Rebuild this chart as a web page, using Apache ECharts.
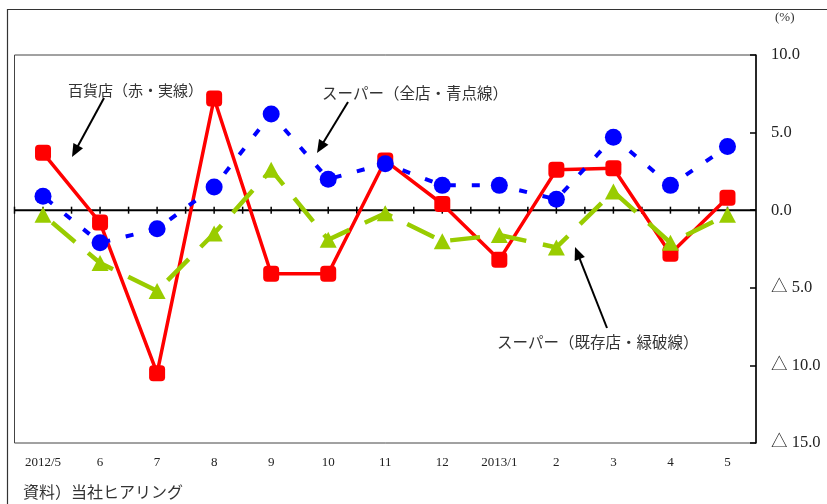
<!DOCTYPE html>
<html>
<head>
<meta charset="utf-8">
<script src="https://cdn.jsdelivr.net/npm/echarts@6/dist/echarts.min.js"></script>
<style>
  html, body { margin: 0; padding: 0; background: #fff; }
  #chart { width: 827px; height: 504px; }
</style>
</head>
<body>
<div id="chart"></div>
<script>
// Month labels (May 2012 – May 2013)
const categories = ['2012/5', '6', '7', '8', '9', '10', '11', '12', '2013/1', '2', '3', '4', '5'];

// Year-on-year sales change, %
const deptStore     = [3.7, -0.8, -10.5, 7.2, -4.1, -4.1, 3.2, 0.4, -3.2, 2.6, 2.7, -2.8, 0.8];   // 百貨店
const superAll      = [0.9, -2.1, -1.2, 1.5, 6.2, 2.0, 3.0, 1.6, 1.6, 0.7, 4.7, 1.6, 4.1];       // スーパー（全店）
const superExisting = [-0.3, -3.4, -5.2, -1.5, 2.6, -1.9, -0.2, -2.0, -1.6, -2.4, 1.2, -2.1, -0.3]; // スーパー（既存店）

// Value axis range and step
const yMin = -15, yMax = 10, yStep = 5;

const serif = '"Liberation Serif", "Noto Sans CJK JP", serif';
const jp = '"Noto Sans CJK JP", sans-serif';

function arrow(x1, y1, x2, y2) {
  const dx = x2 - x1, dy = y2 - y1;
  const len = Math.hypot(dx, dy);
  const ux = dx / len, uy = dy / len;
  const head = 13, half = 5.5;
  const bx = x2 - ux * head, by = y2 - uy * head;
  return {
    type: 'group',
    silent: true,
    children: [
      { type: 'line', shape: { x1: x1, y1: y1, x2: bx + ux * 2, y2: by + uy * 2 },
        style: { stroke: '#000', lineWidth: 2 } },
      { type: 'polygon',
        shape: { points: [[x2, y2], [bx - uy * half, by + ux * half], [bx + uy * half, by - ux * half]] },
        style: { fill: '#000' } }
    ]
  };
}

const chart = echarts.init(document.getElementById('chart'), null, { renderer: 'canvas' });

const option = {
  animation: false,
  backgroundColor: '#fff',
  grid: {
    left: 14.5, right: 71, top: 55, bottom: 61,
    show: true, borderColor: '#444', borderWidth: 1
  },
  xAxis: {
    type: 'category',
    data: categories,
    boundaryGap: true,
    axisLine: { show: false },
    axisTick: { show: false },
    axisLabel: { interval: 0, margin: 13, fontFamily: serif, fontSize: 13, color: '#222' },
    splitLine: { show: false }
  },
  yAxis: {
    type: 'value',
    position: 'right',
    min: yMin, max: yMax, interval: yStep,
    axisLine: { show: true, lineStyle: { color: '#000', width: 1.5 } },
    axisTick: { show: true, inside: true, length: 6, lineStyle: { color: '#000', width: 1.5 } },
    splitLine: { show: false },
    axisLabel: {
      margin: 15, align: 'left', fontFamily: serif, fontSize: 16.5, color: '#222',
      formatter: function (v) {
        return v < 0 ? '△ ' + Math.abs(v).toFixed(1) : v.toFixed(1);
      }
    }
  },
  series: [
    {
      // zero baseline with tick marks at every half month
      type: 'custom',
      silent: true,
      z: 1,
      data: categories.map(function (_, i) { return [i, 0]; }),
      encode: { x: 0, y: 1 },
      renderItem: function (params, api) {
        const c = api.coord([api.value(0), 0]);
        const bw = api.size([1, 0])[0];
        const style = { stroke: '#000', lineWidth: 1.5 };
        const children = [
          { type: 'line', shape: { x1: c[0] - bw / 2, y1: c[1], x2: c[0] + bw / 2, y2: c[1] }, style: { stroke: '#000', lineWidth: 2 } },
          { type: 'line', shape: { x1: c[0] - bw / 2, y1: c[1] - 3.5, x2: c[0] - bw / 2, y2: c[1] + 3.5 }, style: style },
          { type: 'line', shape: { x1: c[0], y1: c[1] - 3.5, x2: c[0], y2: c[1] + 3.5 }, style: style }
        ];
        return { type: 'group', children: children };
      }
    },
    {
      name: '百貨店',
      type: 'line',
      z: 3,
      data: deptStore,
      symbol: 'roundRect',
      symbolSize: 16,
      itemStyle: { color: '#ff0000' },
      lineStyle: { color: '#ff0000', width: 3.5, type: 'solid' }
    },
    {
      name: 'スーパー（全店）',
      type: 'line',
      z: 4,
      data: superAll,
      symbol: 'circle',
      symbolSize: 17,
      itemStyle: { color: '#0000ff' },
      lineStyle: { color: '#0000ff', width: 4, type: [8, 16], dashOffset: -4 }
    },
    {
      name: 'スーパー（既存店）',
      type: 'line',
      z: 5,
      data: superExisting,
      symbol: 'triangle',
      symbolSize: [17, 16],
      itemStyle: { color: '#99cc00' },
      lineStyle: { color: '#99cc00', width: 4.5, type: [30, 17], dashOffset: -12 }
    }
  ],
  graphic: [
    { type: 'rect', silent: true, shape: { x: 7.5, y: 9.5, width: 840, height: 520 },
      style: { fill: 'none', stroke: '#333', lineWidth: 1.2 }, z: -10 },
    { type: 'text', left: 775, top: 11, silent: true,
      style: { text: '(%)', font: '13px ' + serif, fill: '#333' } },
    { type: 'text', x: 68, y: 90, silent: true,
      style: { text: '百貨店（赤・実線）', font: '15px ' + jp, fill: '#333', verticalAlign: 'middle' } },
    { type: 'text', x: 322, y: 93, silent: true,
      style: { text: 'スーパー（全店・青点線）', font: '15.5px ' + jp, fill: '#333', verticalAlign: 'middle' } },
    { type: 'text', x: 497, y: 342, silent: true,
      style: { text: 'スーパー（既存店・緑破線）', font: '15.5px ' + jp, fill: '#333', verticalAlign: 'middle' } },
    { type: 'text', x: 23, y: 492, silent: true,
      style: { text: '資料）当社ヒアリング', font: '16px ' + jp, fill: '#333', verticalAlign: 'middle' } },
    arrow(104, 98, 72, 157),
    arrow(348, 102, 317, 153),
    arrow(607, 328, 575, 247)
  ]
};

chart.setOption(option);
</script>
</body>
</html>
